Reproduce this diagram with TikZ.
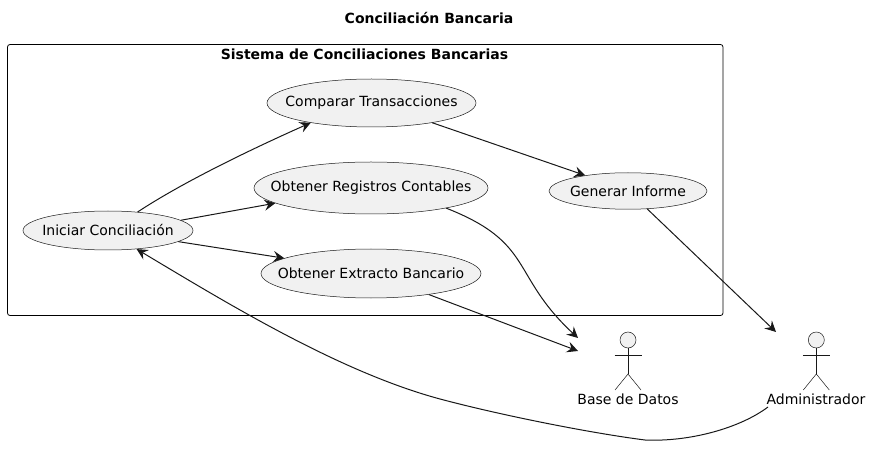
\documentclass[tikz,border=0pt]{standalone}
\usepackage{fontspec}
\setmainfont{DejaVu Sans}
\usetikzlibrary{shapes.geometric,arrows.meta}
\definecolor{ink}{HTML}{181818}
\definecolor{usefill}{HTML}{F1F1F1}
\tikzset{
  usecase/.style={ellipse,draw=ink,line width=0.5pt,fill=usefill,inner sep=0pt,font=\fontsize{14}{16}\selectfont},
  conn/.style={draw=ink,line width=1pt,-{Stealth[length=11pt,width=11pt,inset=4pt]}},
  connrev/.style={draw=ink,line width=1pt,{Stealth[length=11pt,width=11pt,inset=4pt]}-},
  plain/.style={font=\fontsize{14}{16}\selectfont,inner sep=0pt},
  titletext/.style={font=\fontsize{14}{16}\selectfont\bfseries,inner sep=0pt},
  actorline/.style={draw=ink,line width=0.5pt},
  actorhead/.style={draw=ink,line width=0.5pt,fill=usefill},
  pics/actor/.style={code={
    \draw[actorhead] (0,-48) circle (8);
    \draw[actorline] (0,-40) -- (0,-14);
    \draw[actorline] (-13.5,-32.5) -- (13.5,-32.5);
    \draw[actorline] (-13,2) -- (0,-14) -- (13,2);
  }}
}
\begin{document}
\begin{tikzpicture}[x=1pt,y=-1pt]
\useasboundingbox (0,0) rectangle (872,454);
\node[titletext] (title) at (429,18) {Conciliación Bancaria};
\node[draw=black,line width=0.8pt,rounded corners=2.5pt,minimum width=715.5pt,minimum height=271pt,inner sep=0pt] (system) at (365.25,180) {};
\node[titletext] (systemtitle) at (364.5,54) {Sistema de Conciliaciones Bancarias};

\node[usecase,minimum width=209pt,minimum height=48pt] (comparar) at (371.5,103) {\makebox[0pt]{Comparar Transacciones}};
\node[usecase,minimum width=234pt,minimum height=52pt] (registros) at (371,188) {\makebox[0pt]{Obtener Registros Contables}};
\node[usecase,minimum width=220pt,minimum height=49pt] (extracto) at (371,273.5) {\makebox[0pt]{Obtener Extracto Bancario}};
\node[usecase,minimum width=170pt,minimum height=39pt] (iniciar) at (108,230.5) {\makebox[0pt]{Iniciar Conciliación}};
\node[usecase,minimum width=158pt,minimum height=36.5pt] (generar) at (628,191) {\makebox[0pt]{Generar Informe}};

\pic at (628,388) {actor};
\pic at (816.3,388) {actor};
\node[plain] (bd) at (628,399) {Base de Datos};
\node[plain] (admin) at (816,399) {Administrador};
\coordinate (bdA) at (578,338);
\coordinate (bdB) at (578,351);
\coordinate (adminIn) at (776,332);
\coordinate (adminOut) at (768,407);
\coordinate (bendA) at (440,399);
\coordinate (bendB) at (645,440);

\draw[conn] (iniciar.32.5) .. controls (180,184) and (245,152) .. (comparar.198);
\draw[conn] (iniciar.8.9) -- (registros.189);
\draw[conn] (iniciar.-9.7) -- (extracto.170.6);
\draw[conn] (comparar.-18.6) -- (generar.160);
\draw[conn] (registros.-15.3) .. controls (535,243) and (510,275) .. (bdA);
\draw[conn] (extracto.-20) -- (bdB);
\draw[conn] (generar.-43) -- (adminIn);
\draw[connrev] (iniciar.-33) .. controls (230,305) and (340,372) .. (bendA) .. controls (500,415) and (590,433) .. (bendB) .. controls (690,442) and (740,428) .. (adminOut);
\end{tikzpicture}
\end{document}
